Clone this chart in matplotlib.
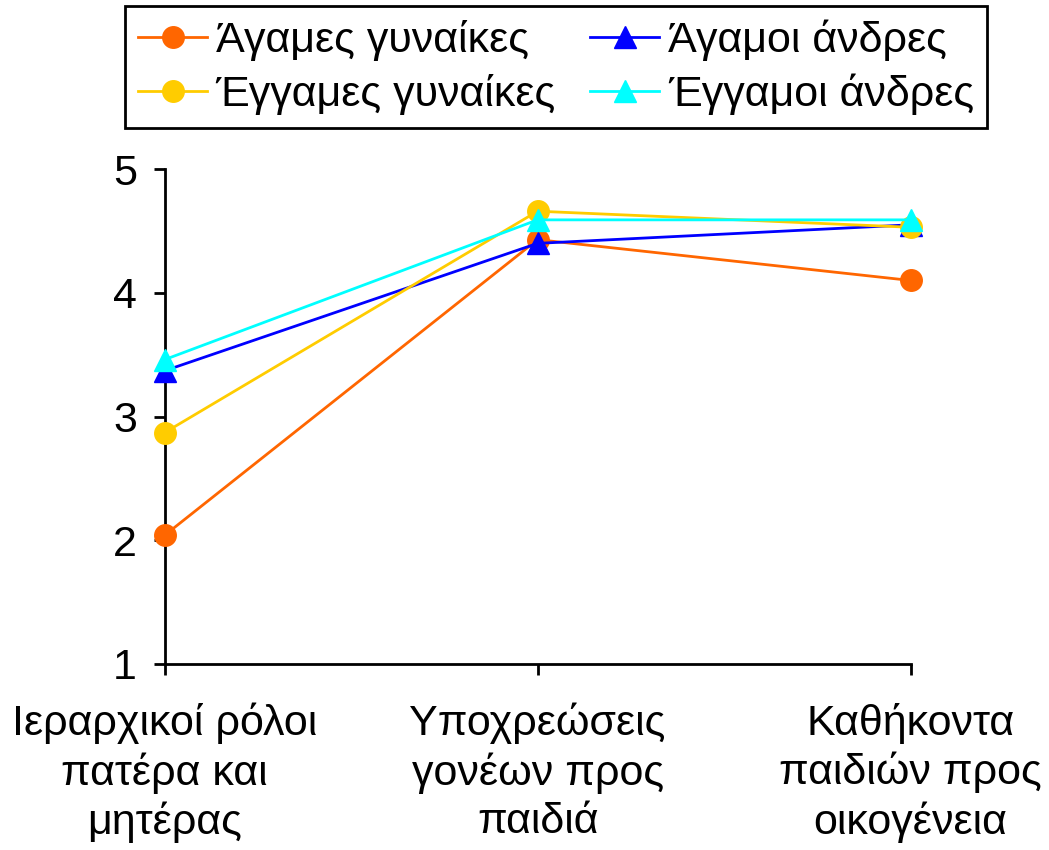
import matplotlib.pyplot as plt

plt.rcParams['font.family'] = ['Liberation Sans', 'DejaVu Sans']

categories = ['Ιεραρχικοί ρόλοι\nπατέρα και\nμητέρας',
              'Υποχρεώσεις\nγονέων προς\nπαιδιά',
              'Καθήκοντα\nπαιδιών προς\nοικογένεια']
agames_gynaikes = [2.04, 4.43, 4.10]
engames_gynaikes = [2.87, 4.66, 4.53]
agamoi_andres = [3.37, 4.40, 4.55]
engamoi_andres = [3.46, 4.59, 4.59]

fig = plt.figure(figsize=(10.49, 8.5), dpi=100)
ax = fig.add_axes([0.157, 0.219, 0.711, 0.582])

x = range(len(categories))
l1, = ax.plot(x, agames_gynaikes, color='#FF6600', marker='o', markersize=15.5, lw=2.0,
              label='Άγαμες γυναίκες', clip_on=False, zorder=3)
l3, = ax.plot(x, agamoi_andres, color='#0000FF', marker='^', markersize=15.5, lw=2.0,
              label='Άγαμοι άνδρες', clip_on=False, zorder=4)
l2, = ax.plot(x, engames_gynaikes, color='#FFCC00', marker='o', markersize=15.5, lw=2.0,
              label='Έγγαμες γυναίκες', clip_on=False, zorder=5)
l4, = ax.plot(x, engamoi_andres, color='#00FFFF', marker='^', markersize=15.5, lw=2.0,
              label='Έγγαμοι άνδρες', clip_on=False, zorder=6)

ax.set_xlim(0, 2)
ax.set_ylim(1, 5)
ax.set_yticks([1, 2, 3, 4, 5])
ax.set_xticks(list(x))
ax.set_xticklabels(categories, fontsize=31, linespacing=1.25)
ax.tick_params(axis='y', labelsize=31, length=8, width=2, direction='out', pad=12)
ax.tick_params(axis='x', length=8, width=2, direction='out', pad=20)
ax.spines['top'].set_visible(False)
ax.spines['right'].set_visible(False)
ax.spines['left'].set_linewidth(2)
ax.spines['bottom'].set_linewidth(2)

leg = fig.legend(handles=[l1, l2, l3, l4], loc='upper center', bbox_to_anchor=(0.53, 1.0),
                 ncol=2, fontsize=31, frameon=True, fancybox=False, edgecolor='black',
                 handlelength=1.6, handletextpad=0.2, columnspacing=0.8,
                 borderpad=0.3, labelspacing=0.3, borderaxespad=0.15)
leg.get_frame().set_linewidth(2)
leg.get_frame().set_alpha(1)

plt.savefig('out.png', dpi=100)
